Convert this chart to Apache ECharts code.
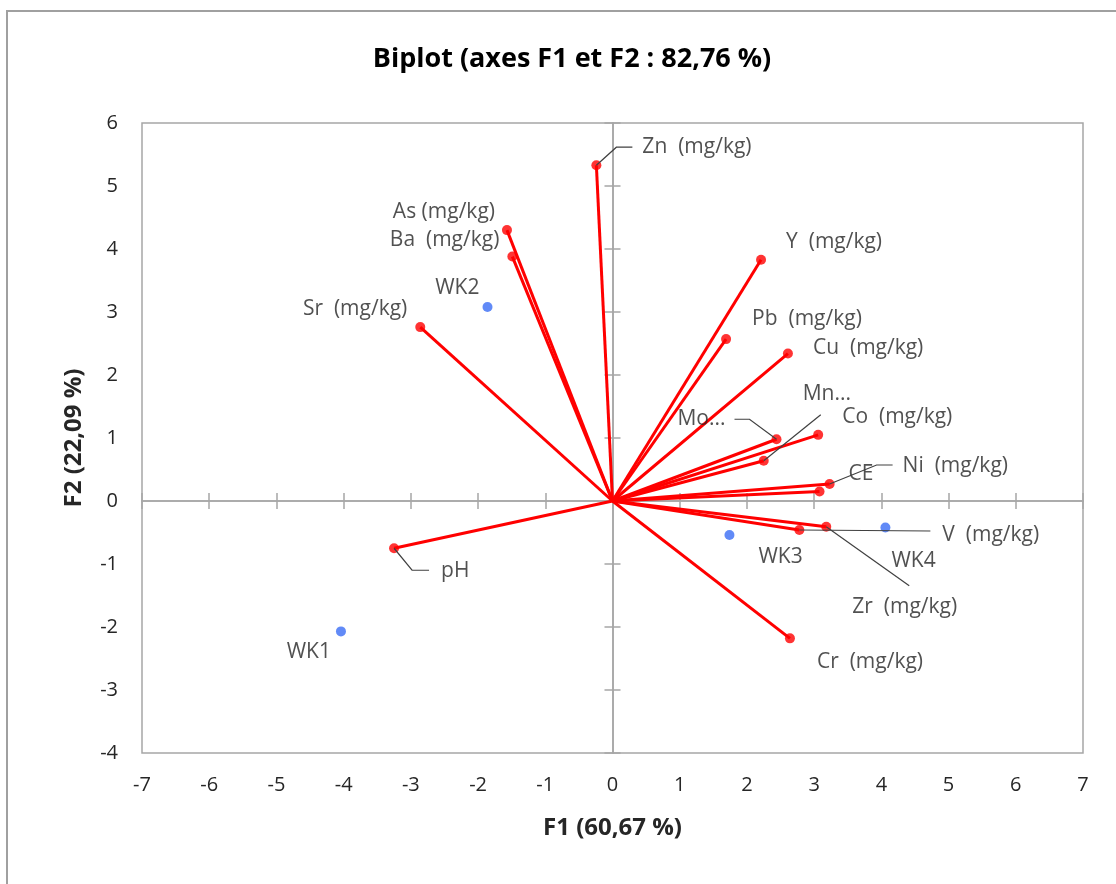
<!DOCTYPE html>
<html>
<head>
<meta charset="utf-8">
<script src="https://cdn.jsdelivr.net/npm/echarts@6/dist/echarts.min.js"></script>
<style>html,body{margin:0;padding:0;background:#fff;}#c{width:1116px;height:884px;}</style>
</head>
<body>
<div id="c"></div>
<script>
// ---- data ----
const varNames = ['Zn  (mg/kg)','As (mg/kg)','Ba  (mg/kg)','Sr  (mg/kg)','Y  (mg/kg)','Pb  (mg/kg)','Cu  (mg/kg)','Mo...','Mn...','Co  (mg/kg)','Ni  (mg/kg)','CE','V  (mg/kg)','Zr  (mg/kg)','Cr  (mg/kg)','pH'];
const varF1 = [-0.24,-1.57,-1.49,-2.86,2.21,1.69,2.61,2.44,2.25,3.06,3.23,3.08,2.78,3.18,2.64,-3.25];
const varF2 = [5.33,4.30,3.88,2.76,3.83,2.57,2.34,0.98,0.64,1.05,0.27,0.15,-0.46,-0.41,-2.18,-0.75];
const obsNames = ['WK1','WK2','WK3','WK4'];
const obsF1 = [-4.04,-1.86,1.74,4.06];
const obsF2 = [-2.07,3.08,-0.54,-0.42];
const xTicks = [-7,7,1];
const yTicks = [-4,6,1];

// ---- label layout (pixel offsets, styling only) ----
const varLabelLayout = [
  {dx:46, dy:-18, align:'left', leader:[[0,0],[20,-18],[36,-18]]},
  {dx:-12, dy:-18, align:'right'},
  {dx:-13, dy:-17, align:'right'},
  {dx:-13, dy:-18, align:'right'},
  {dx:25, dy:-18, align:'left'},
  {dx:26, dy:-20, align:'left'},
  {dx:25, dy:-6, align:'left'},
  {dx:-51, dy:-20, align:'right', leader:[[0,0],[-27,-20],[-42,-20]]},
  {dx:39, dy:-67, align:'left', leader:[[0,0],[57,-46]]},
  {dx:24, dy:-18, align:'left'},
  {dx:73, dy:-18, align:'left', leader:[[0,0],[47,-19],[63,-19]]},
  {dx:29, dy:-18, align:'left'},
  {dx:143, dy:5, align:'left', leader:[[0,0],[131,1]]},
  {dx:26, dy:80, align:'left', leader:[[0,0],[83,59]]},
  {dx:27, dy:24, align:'left'},
  {dx:47, dy:23, align:'left', leader:[[0,0],[18,22],[35,22]]}
];
const obsLabelLayout = [
  {dx:-10, dy:21, align:'right'},
  {dx:-8, dy:-19, align:'right'},
  {dx:29, dy:22, align:'left'},
  {dx:6, dy:34, align:'left'}
];

const FONT = 'Open Sans';
const TXT = '#262626';
const GRAY = '#a6a6a6';
const LBL = 21;

const varData = varNames.map((n,i)=>({
  name:n, value:[varF1[i],varF2[i]],
  label:{offset:[varLabelLayout[i].dx,varLabelLayout[i].dy], align:varLabelLayout[i].align}
}));
const obsData = obsNames.map((n,i)=>({
  name:n, value:[obsF1[i],obsF2[i]],
  label:{offset:[obsLabelLayout[i].dx,obsLabelLayout[i].dy], align:obsLabelLayout[i].align}
}));
const vecData = varNames.map((n,i)=>[varF1[i],varF2[i]]);
const leaderData = [];
varNames.forEach((n,i)=>{ if(varLabelLayout[i].leader) leaderData.push([varF1[i],varF2[i],i]); });

function baseX(extra){
  return Object.assign({type:'value', min:xTicks[0], max:xTicks[1], interval:xTicks[2], splitLine:{show:false}}, extra);
}
function baseY(extra){
  return Object.assign({type:'value', min:yTicks[0], max:yTicks[1], interval:yTicks[2], splitLine:{show:false}}, extra);
}

const chart = echarts.init(document.getElementById('c'));
chart.setOption({
  animation:false,
  backgroundColor:'#fff',
  title:{text:'Biplot (axes F1 et F2 : 82,76 %)', left:567, top:41, textAlign:'center',
    textStyle:{fontFamily:FONT, fontWeight:'bold', fontSize:27, color:'#000'}},
  graphic:[{type:'rect', shape:{x:7,y:11,width:1300,height:1000}, style:{fill:'none', stroke:'#a0a0a0', lineWidth:2}, silent:true, z:-10}],
  grid:{left:142, top:123, right:33, bottom:131, show:true, borderColor:GRAY, borderWidth:1.5},
  xAxis:[
    baseX({position:'bottom', axisLine:{show:false}, axisTick:{show:false},
      axisLabel:{margin:22, color:TXT, fontFamily:FONT, fontSize:20},
      name:'F1 (60,67 %)', nameLocation:'middle', nameGap:63,
      nameTextStyle:{fontFamily:FONT, fontWeight:'bold', fontSize:24, color:TXT}}),
    baseX({position:'bottom', axisLine:{onZero:true, lineStyle:{color:GRAY, width:1.5}},
      axisTick:{show:true, inside:false, length:8, lineStyle:{color:GRAY, width:1.5}}, axisLabel:{show:false}}),
    baseX({position:'bottom', axisLine:{onZero:true, lineStyle:{color:GRAY, width:1.5}},
      axisTick:{show:true, inside:true, length:8, lineStyle:{color:GRAY, width:1.5}}, axisLabel:{show:false}})
  ],
  yAxis:[
    baseY({position:'left', axisLine:{show:false}, axisTick:{show:false},
      axisLabel:{margin:24, color:TXT, fontFamily:FONT, fontSize:20},
      name:'F2 (22,09 %)', nameLocation:'middle', nameGap:56,
      nameTextStyle:{fontFamily:FONT, fontWeight:'bold', fontSize:24, color:TXT}}),
    baseY({position:'left', axisLine:{onZero:true, lineStyle:{color:GRAY, width:1.5}},
      axisTick:{show:true, inside:false, length:8, lineStyle:{color:GRAY, width:1.5}}, axisLabel:{show:false}}),
    baseY({position:'left', axisLine:{onZero:true, lineStyle:{color:GRAY, width:1.5}},
      axisTick:{show:true, inside:true, length:8, lineStyle:{color:GRAY, width:1.5}}, axisLabel:{show:false}})
  ],
  series:[
    {type:'custom', name:'vectors', coordinateSystem:'cartesian2d', data:vecData, z:2,
      renderItem:function(params, api){
        const o = api.coord([0,0]);
        const p = api.coord([api.value(0), api.value(1)]);
        return {type:'line', shape:{x1:o[0],y1:o[1],x2:p[0],y2:p[1]}, style:{stroke:'#ff0000', lineWidth:3}};
      }},
    {type:'scatter', name:'Variables', data:varData, symbol:'circle', symbolSize:10, z:3,
      itemStyle:{color:'#ff0000'},
      label:{show:true, position:'inside', formatter:'{b}', verticalAlign:'middle',
        color:TXT, fontFamily:FONT, fontSize:LBL}},
    {type:'scatter', name:'Observations', data:obsData, symbol:'circle', symbolSize:10, z:3,
      itemStyle:{color:'#3a6df5'},
      label:{show:true, position:'inside', formatter:'{b}', verticalAlign:'middle',
        color:TXT, fontFamily:FONT, fontSize:LBL}},
    {type:'custom', name:'leaders', coordinateSystem:'cartesian2d', data:leaderData, z:4,
      renderItem:function(params, api){
        const p = api.coord([api.value(0), api.value(1)]);
        const lay = varLabelLayout[api.value(2)].leader;
        return {type:'polyline', shape:{points:lay.map(d=>[p[0]+d[0], p[1]+d[1]])},
          style:{stroke:'#404040', lineWidth:1.2, fill:'none'}};
      }}
  ]
});
</script>
</body>
</html>
